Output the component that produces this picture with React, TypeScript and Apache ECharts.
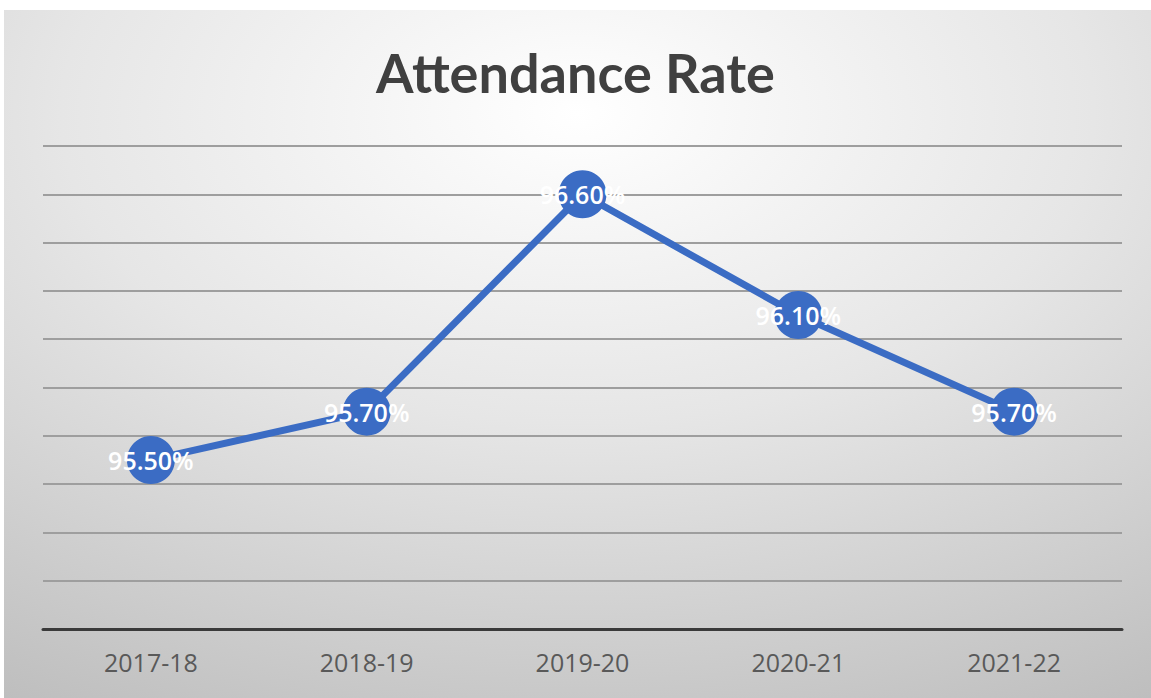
import React, { useEffect, useRef } from "react";
import * as echarts from "echarts";

const title = "Attendance Rate";
const categories = ["2017-18", "2018-19", "2019-20", "2020-21", "2021-22"];
const attendance = [95.5, 95.7, 96.6, 96.1, 95.7];
const yMin = 94.8;
const yMax = 96.8;
const yInterval = 0.2;

export default function App() {
  const ref = useRef<HTMLDivElement>(null);
  useEffect(() => {
    if (!ref.current) return;
    const chart = echarts.init(ref.current, undefined, { renderer: "svg" });
    chart.setOption({
      animation: false,
      backgroundColor: "#ffffff",
      graphic: [
        {
          type: "rect",
          z: -10,
          silent: true,
          shape: { x: 4, y: 10, width: 1147, height: 688 },
          style: {
            fill: new echarts.graphic.RadialGradient(0.5, 0.15, 1.0, [
              { offset: 0, color: "#ffffff" },
              { offset: 0.45, color: "#e6e6e6" },
              { offset: 1, color: "#bdbdbd" },
            ]),
          },
        },
      ],
      title: {
        text: title,
        left: "center",
        top: 40,
        textStyle: {
          fontFamily: "Lato",
          fontWeight: "bold",
          fontSize: 54,
          color: "#404040",
        },
      },
      grid: { left: 43, right: 29, top: 146, bottom: 69, containLabel: false },
      xAxis: {
        type: "category",
        data: categories,
        boundaryGap: true,
        axisLine: { lineStyle: { color: "#3a3a3a", width: 3 } },
        axisTick: { show: false },
        axisLabel: {
          fontFamily: "Open Sans",
          fontSize: 25,
          color: "#595959",
          margin: 20,
        },
      },
      yAxis: {
        type: "value",
        min: yMin,
        max: yMax,
        interval: yInterval,
        axisLabel: { show: false },
        axisLine: { show: false },
        axisTick: { show: false },
        splitLine: { lineStyle: { color: "#9e9e9e", width: 2 } },
      },
      series: [
        {
          type: "line",
          data: attendance,
          symbol: "circle",
          symbolSize: 48,
          itemStyle: { color: "#3b6cc4" },
          lineStyle: { color: "#3b6cc4", width: 7 },
          label: {
            show: true,
            position: "inside",
            formatter: (p: any) => p.value.toFixed(2) + "%",
            fontFamily: "Open Sans",
            fontWeight: 600,
            fontSize: 25,
            color: "#ffffff",
          },
        },
      ],
    });
    return () => chart.dispose();
  }, []);
  return (
    <div
      ref={ref}
      style={{ position: "absolute", left: 0, top: 0, width: 1151, height: 698 }}
    />
  );
}
